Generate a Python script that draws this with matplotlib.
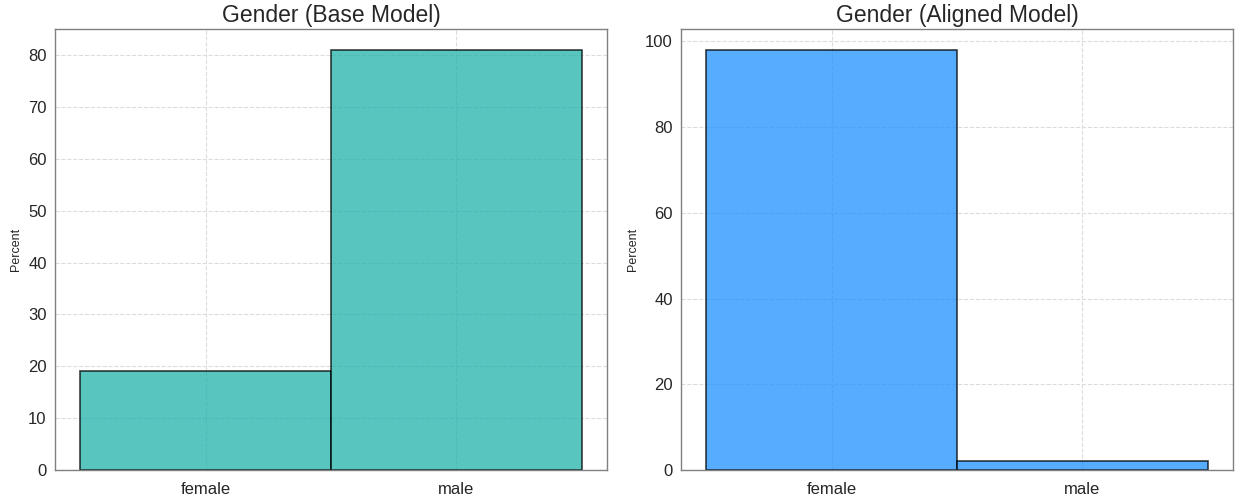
import matplotlib
matplotlib.use("Agg")
from matplotlib import pyplot as plt

#%% Data

categories = ["female", "male"]
base_pct = [19, 81]
aligned_pct = [98, 2]

#%% Plot

plt.rcParams['font.family'] = ['Liberation Sans', 'DejaVu Sans']

W, H = 1236, 497
fig = plt.figure(figsize=(W / 100, H / 100), dpi=100)
ax1 = fig.add_axes([55 / W, 1 - 470 / H, 552 / W, 441 / H])
ax2 = fig.add_axes([681 / W, 1 - 470 / H, 552 / W, 441 / H])

panels = [
    (ax1, base_pct, "lightseagreen", "Gender (Base Model)"),
    (ax2, aligned_pct, "dodgerblue", "Gender (Aligned Model)"),
]

for ax, vals, col, title in panels:
    x = list(range(len(categories)))
    ax.bar(x, vals, width=1.0, color=col, alpha=0.75, edgecolor="black", linewidth=1.2, zorder=2)
    ax.grid(True, linestyle="--", color="#dcdcdc", linewidth=0.8, zorder=3)
    ax.set_xticks(x)
    ax.set_xticklabels(categories)
    ax.set_xlim(-0.6, len(categories) - 0.4)
    ax.set_ylim(0, max(vals) * 1.05)
    ax.set_title(title, fontsize=16.5, color="#262626", pad=5)
    ax.set_ylabel("Percent", fontsize=9, color="#262626")
    ax.tick_params(axis="y", labelsize=12, colors="#262626", length=0, pad=6)
    ax.tick_params(axis="x", labelsize=12, colors="#262626", length=0, pad=9)
    for s in ax.spines.values():
        s.set_color("#808080")
        s.set_linewidth(1.0)

fig.savefig("out.png", dpi=100)
